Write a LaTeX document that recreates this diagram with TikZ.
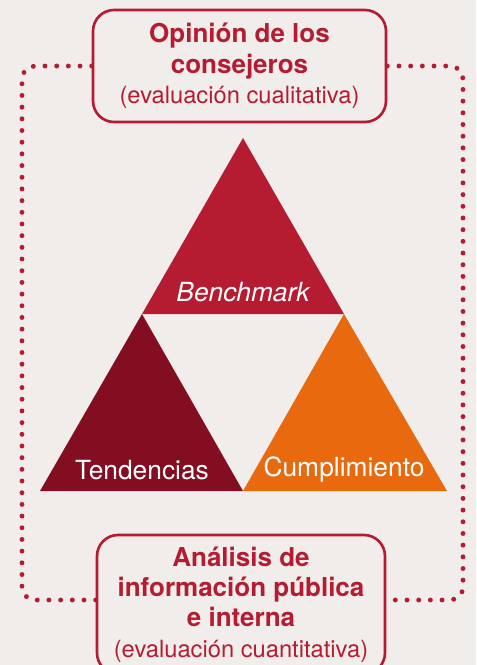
\documentclass[tikz,border=0pt]{standalone}
\usepackage{fontspec}
\setmainfont{TeX Gyre Heros}
\usetikzlibrary{positioning}

\definecolor{paper}{HTML}{F1EDEA}
\definecolor{crimson}{HTML}{B51C32}
\definecolor{wine}{HTML}{830E22}
\definecolor{tangerine}{HTML}{E8690E}

\begin{document}
\begin{tikzpicture}[x=0.02cm,y=-0.02cm,
  box/.style={draw=crimson,line width=1.5pt,rounded corners=0.42cm,align=center,
    text=crimson,inner sep=0pt,font=\fontsize{14.8}{17.3}\selectfont\bfseries},
  dotline/.style={draw=crimson,line width=2.8pt,line cap=round,
    dash pattern=on 0pt off 6.65pt,rounded corners=0.26cm},
  lab/.style={text=white,font=\fontsize{15}{18}\selectfont},
]
\fill[paper] (0,0) rectangle (476,665);
\useasboundingbox (0,0) rectangle (476,665);

% the three triangles
\coordinate (apex) at (243,138);
\coordinate (ml) at (142,314);
\coordinate (mr) at (344,314);
\coordinate (bl) at (40,491);
\coordinate (bm) at (243,491);
\coordinate (br) at (447,491);
\fill[crimson] (apex) -- (mr) -- (ml) -- cycle;
\fill[wine] (ml) -- (bm) -- (bl) -- cycle;
\fill[tangerine] (mr) -- (br) -- (bm) -- cycle;
\node[lab] (bench) at (243,292) {\itshape Benchmark};
\node[lab] (tend) at (142,470) {Tendencias};
\node[lab] (cump) at (344,470) {Cumplimiento};

% boxes
\node[box,minimum width=5.86cm,minimum height=2.24cm] (top) at (239.5,66)
  {Opinión de los\\consejeros\\{\mdseries\fontsize{13.5}{17.3}\selectfont (evaluación cualitativa)}};
\node[box,minimum width=5.76cm,minimum height=2.78cm] (bot) at (241,604.5)
  {Análisis de\\información pública\\e interna\\{\mdseries\fontsize{13.5}{17.3}\selectfont (evaluación cuantitativa)}};

% dotted loop
\coordinate (lb) at (22,600);
\coordinate (rb) at (463,600);
\draw[dotline] (top.west) -| (lb) -- (lb -| bot.west);
\draw[dotline] (top.east) -| (rb) -- (rb -| bot.east);
\end{tikzpicture}
\end{document}
